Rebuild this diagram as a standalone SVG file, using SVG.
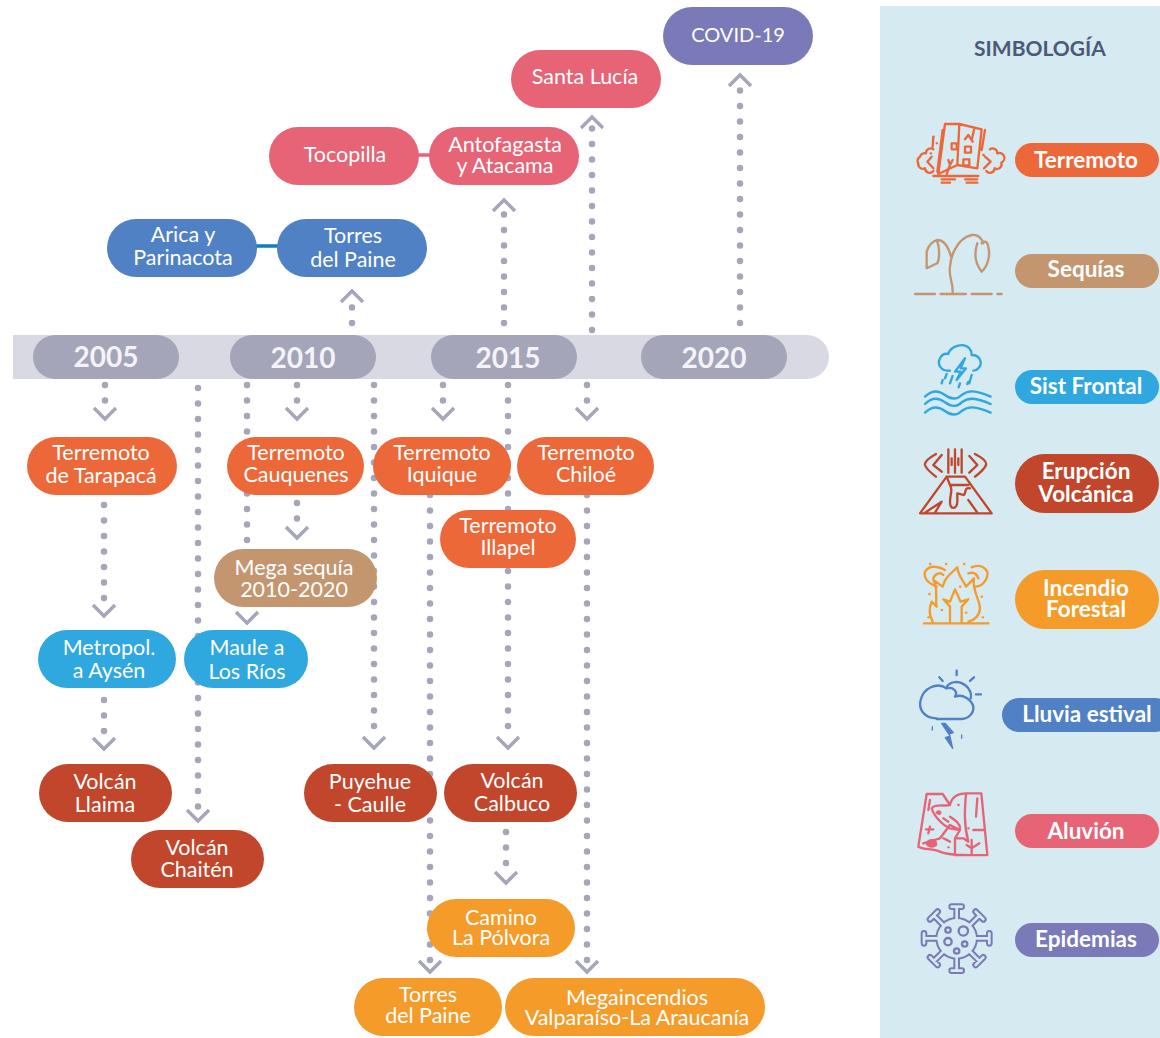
<svg xmlns="http://www.w3.org/2000/svg" width="1160" height="1038" viewBox="0 0 1160 1038">
<defs><style>
text{font-family:"Lato","Noto Sans",sans-serif;font-size:21.5px;fill:#fff;text-anchor:middle}
.y{font-size:28px;font-weight:700;fill:#f4f4f8}
.l{font-size:22.5px;font-weight:700}
.t{font-size:21px;font-weight:700;fill:#4c5a78}
.dot{fill:none;stroke:#a5a6ba;stroke-width:6.500;stroke-linecap:round;stroke-dasharray:0 15.500}
.ch{fill:none;stroke:#a5a6ba;stroke-width:3.500}
.ic{fill:none;stroke-width:7;stroke-linecap:round;stroke-linejoin:round}
.eq{fill:#ec6839}.vo{fill:#c1462b}.fi{fill:#f59b2a}.dr{fill:#c39670}.fr{fill:#2fa7df}.ra{fill:#4f81c4}.al{fill:#e66475}.ep{fill:#7a7ab8}.yr{fill:#a4a5b9}
</style></defs>
<rect x="880" y="6" width="280" height="1032" fill="#d6eaf2"/>
<path d="M13 335H807a22 22 0 0 1 0 44H13Z" fill="#d9d9e3"/>
<g id="connectors">
<path class="dot" d="M352 323V298M504 323V208M592 330V126M740 323V84"/>
<path class="dot" d="M105 385V412M198 388V812M247 385V615M297 385V412M374 385V740M443 385V412M508 385V738M587 385V412M104 505V606M104 700V736M297 503V530M430 495V962M506 832V876M587 495V962"/>
<path class="ch" d="M341 302L352 291L363 302M493 211L504 200L515 211M581 128L592 117L603 128M729 86L740 75L751 86"/>
<path class="ch" d="M94 408L105 419L116 408M187 810L198 821L209 810M236 612L247 623L258 612M286 408L297 419L308 408M363 737L374 748L385 737M432 408L443 419L454 408M497 737L508 748L519 737M576 408L587 419L598 408M93 605L104 616L115 605M93 738L104 749L115 738M286 527L297 538L308 527M419 961L430 972L441 961M495 872L506 883L517 872M576 961L587 972L598 961"/>
<path d="M415 155H433" stroke="#e66475" stroke-width="3.500"/>
<path d="M253 246H281" stroke="#0f7cc4" stroke-width="3.500"/>
</g>
<g id="y2005"><rect class="yr" x="33" y="335" width="146" height="44" rx="22"/><text class="y" x="106" y="367">2005</text></g>
<g id="y2010"><rect class="yr" x="230" y="335" width="146" height="44" rx="22"/><text class="y" x="303" y="368">2010</text></g>
<g id="y2015"><rect class="yr" x="431" y="335" width="146" height="44" rx="22"/><text class="y" x="508" y="368">2015</text></g>
<g id="y2020"><rect class="yr" x="641" y="335" width="146" height="44" rx="22"/><text class="y" x="714" y="368">2020</text></g>
<g id="covid"><rect class="ep" x="663" y="7" width="150" height="58" rx="29"/><text x="738" y="42" style="font-size:20px">COVID-19</text></g>
<g id="santalucia"><rect class="al" x="511" y="50" width="150" height="58" rx="29"/><text x="585" y="84">Santa Lucía</text></g>
<g id="tocopilla"><rect class="al" x="269" y="127" width="150" height="58" rx="29"/><text x="345" y="162">Tocopilla</text></g>
<g id="antofagasta"><rect class="al" x="429" y="127" width="150" height="58" rx="29"/><text x="505" y="152">Antofagasta</text><text x="505" y="173">y Atacama</text></g>
<g id="arica"><rect class="ra" x="107" y="219" width="150" height="58" rx="29"/><text x="183" y="242">Arica y</text><text x="183" y="265">Parinacota</text></g>
<g id="torres1"><rect class="ra" x="277" y="219" width="150" height="58" rx="29"/><text x="353" y="243">Torres</text><text x="353" y="267">del Paine</text></g>
<g id="tarapaca"><rect class="eq" x="27" y="437" width="150" height="58" rx="29"/><text x="101" y="460">Terremoto</text><text x="101" y="483">de Tarapacá</text></g>
<g id="cauquenes"><rect class="eq" x="227" y="437" width="137" height="58" rx="29"/><text x="296" y="460">Terremoto</text><text x="296" y="482">Cauquenes</text></g>
<g id="iquique"><rect class="eq" x="373" y="437" width="138" height="58" rx="29"/><text x="442" y="460">Terremoto</text><text x="442" y="482">Iquique</text></g>
<g id="chiloe"><rect class="eq" x="517" y="437" width="137" height="58" rx="29"/><text x="586" y="460">Terremoto</text><text x="586" y="482">Chiloé</text></g>
<g id="illapel"><rect class="eq" x="440" y="510" width="136" height="58" rx="29"/><text x="508" y="533">Terremoto</text><text x="508" y="555">Illapel</text></g>
<g id="megasequia"><rect class="dr" x="214" y="549" width="163" height="58" rx="29"/><text x="294" y="575">Mega sequía</text><text x="294" y="597">2010-2020</text></g>
<g id="metropol"><rect class="fr" x="38" y="630" width="138" height="58" rx="29"/><text x="109" y="655">Metropol.</text><text x="109" y="678">a Aysén</text></g>
<g id="maule"><rect class="fr" x="184" y="630" width="124" height="58" rx="29"/><text x="247" y="655">Maule a</text><text x="247" y="679">Los Ríos</text></g>
<g id="llaima"><rect class="vo" x="39" y="764" width="133" height="58" rx="29"/><text x="105" y="789">Volcán</text><text x="105" y="812">Llaima</text></g>
<g id="chaiten"><rect class="vo" x="131" y="830" width="133" height="58" rx="29"/><text x="197" y="855">Volcán</text><text x="197" y="877">Chaitén</text></g>
<g id="puyehue"><rect class="vo" x="304" y="764" width="133" height="58" rx="29"/><text x="370" y="789">Puyehue</text><text x="370" y="812">- Caulle</text></g>
<g id="calbuco"><rect class="vo" x="444" y="764" width="133" height="58" rx="29"/><text x="512" y="788">Volcán</text><text x="512" y="811">Calbuco</text></g>
<g id="camino"><rect class="fi" x="427" y="899" width="148" height="58" rx="29"/><text x="501" y="925">Camino</text><text x="501" y="945">La Pólvora</text></g>
<g id="torres2"><rect class="fi" x="354" y="978" width="148" height="58" rx="29"/><text x="428" y="1002">Torres</text><text x="428" y="1023">del Paine</text></g>
<g id="megaincendios"><rect class="fi" x="505" y="978" width="260" height="58" rx="29"/><text x="637" y="1005">Megaincendios</text><text x="637" y="1025">Valparaíso-La Araucanía</text></g>
<g id="legend">
<text class="t" x="1040" y="56">SIMBOLOGÍA</text>
<g id="lg-terremoto"><rect class="eq" x="1015" y="143" width="144" height="34" rx="17"/><text class="l" x="1086" y="168">Terremoto</text>
<g class="ic" stroke="#ec6839" transform="translate(900 100) scale(.3333)"><path d="M135 72L178 72L172 195L115 222ZM178 72L245 88L232 205L172 195M128 90L112 215M100 110L98 140M255 90L245 150M155 130h15v18h-15ZM195 140h18v18h-18ZM190 178h18v18h-18ZM145 180L150 195L140 222M158 180L150 195M195 118L205 105L218 125M222 90L215 120M100 148a14 14 0 0 0-22 12a14 14 0 0 0-18 10a14 14 0 0 0-5 20a14 14 0 0 0 20 15a14 14 0 0 0 25 8M95 170L82 185L100 205M270 148a14 14 0 0 1 22 12a14 14 0 0 1 12 28a14 14 0 0 1-20 17a14 14 0 0 1-25 8M255 170L272 185L252 205M100 228H235M125 238H165M195 238H232M125 248H150M200 248H232M100 110h1M92 160h1M110 130h1M250 165h1"/></g></g>
<g id="lg-sequias"><rect class="dr" x="1015" y="254" width="144" height="34" rx="17"/><text class="l" x="1086" y="277">Sequías</text>
<g class="ic" stroke="#c39670" transform="translate(900 100) scale(.3333)"><path d="M158 580C160 545 145 530 150 500C152 470 170 415 215 405C235 403 245 415 250 430M153 470C145 440 130 420 112 420C95 425 85 440 80 455V505L112 490C120 475 118 440 112 425M232 430C222 460 225 490 245 515C262 500 275 465 262 430C258 422 250 425 245 430M45 582H105M122 582H198M215 582H275M292 582H305"/></g></g>
<g id="lg-frontal"><rect class="fr" x="1015" y="370" width="144" height="34" rx="17"/><text class="l" x="1086" y="394">Sist Frontal</text>
<g class="ic" stroke="#2fa7df" transform="translate(900 100) scale(.3333)"><path d="M150 812C125 815 110 795 120 775C125 765 135 760 145 762C150 740 190 725 208 745C215 752 215 760 215 765C240 765 250 790 235 805C230 810 225 812 220 812M195 775L165 815H182L170 840L198 805H182ZM140 822L135 835M158 828L150 850M128 840L125 850M215 825L208 850M205 845L202 852M180 850L176 862M75 890C95 870 115 870 135 885C155 900 170 900 185 885C205 870 225 870 272 890M75 912C95 892 115 892 135 907C155 922 170 922 185 907C205 892 225 892 272 912M75 938C95 918 115 918 135 933C155 948 170 948 185 933C205 918 225 918 272 938"/></g></g>
<g id="lg-erupcion"><rect class="vo" x="1015" y="454" width="144" height="59" rx="29.500"/><text class="l" x="1086" y="479">Erupción</text><text class="l" x="1086" y="502">Volcánica</text>
<g class="ic" stroke="#c1462b" transform="translate(900 430) scale(.3333)"><path d="M108 72C85 85 72 95 75 105C80 120 95 130 108 140M125 75L100 105L125 125M225 72C250 85 262 95 258 105C252 120 238 130 225 140M208 78L232 105L208 128M145 58V128M165 58V128M185 58V128M155 85V105M175 85V105M60 250L140 140H195L275 250ZM140 140L150 165H205M150 165C160 180 150 190 150 215C150 240 170 240 172 215V190L190 195C200 195 190 170 210 175M75 248L125 215L105 248M205 210L232 248"/></g></g>
<g id="lg-incendio"><rect class="fi" x="1015" y="570" width="144" height="59" rx="29.500"/><text class="l" x="1086" y="596">Incendio</text><text class="l" x="1086" y="617">Forestal</text>
<g class="ic" stroke="#f59b2a" transform="translate(900 430) scale(.3333)"><path d="M72 580H265M98 575C85 550 88 530 95 515L110 530C105 500 115 470 100 450L128 470C135 440 155 430 172 412C175 440 190 450 198 470L222 445C215 480 240 510 240 535C240 555 225 570 205 575M150 575V530L130 508L150 515L165 478L182 515L205 508L185 530V575M110 470C85 460 70 445 75 425C85 410 105 405 135 420M100 445C105 430 120 425 130 435M225 470C250 470 265 445 262 425C250 405 230 405 215 412M235 445C230 430 220 425 205 430M90 402h1M138 402h1M192 402h1M88 492h1M245 500h1M125 540h1M198 548h1M248 562h1M85 562h1M180 470h1"/></g></g>
<g id="lg-lluvia"><rect class="ra" x="1002" y="698" width="170" height="34" rx="17"/><text class="l" x="1087" y="722">Lluvia estival</text>
<g class="ic" stroke="#4f81c4" transform="translate(900 430) scale(.3333)"><path d="M110 865C70 865 55 835 62 810C70 775 110 755 140 775C160 770 175 785 165 800C190 790 215 810 220 830C222 850 205 867 185 867H110ZM138 775C145 755 180 745 205 775C212 785 215 795 212 805M170 722V735M118 742L128 753M222 742L210 753M228 793H243"/><path d="M125 880L150 918L136 923L158 955L148 912L160 908L135 880ZM97 890V900M185 915V925" style="fill:#4f81c4;stroke-width:4"/></g></g>
<g id="lg-aluvion"><rect class="al" x="1015" y="814" width="144" height="34" rx="17"/><text class="l" x="1086" y="839">Aluvión</text>
<g class="ic" stroke="#e66475" transform="translate(900 730) scale(.3333)"><path d="M80 192H128L150 225C155 200 175 190 200 190H244L262 375C220 375 150 380 120 365C100 355 70 360 55 350ZM198 192C195 230 190 280 205 335L190 325L165 325L180 300L150 285L120 325L70 340M150 225C135 230 105 220 95 235C100 255 125 285 150 295L180 300M150 260C165 270 180 280 180 295M165 325V375M90 290L85 310M78 298H100M90 210L85 240M232 205L228 260M220 300H250M205 295h1M175 225h1M130 325L150 335M215 370V330M200 345L215 355L238 340M145 352h1M130 265L145 275"/><path d="M80 340C90 325 110 330 108 345C100 352 85 352 80 340ZM110 248C118 238 125 250 118 252Z" fill="#e66475"/></g></g>
<g id="lg-epidemias"><rect class="ep" x="1015" y="923" width="144" height="34" rx="17"/><text class="l" x="1086" y="947">Epidemias</text>
<g transform="translate(900 730) scale(.3333)" fill="none" stroke-linecap="round"><path stroke="#7a7ab8" stroke-width="20" d="M170 625V532M155 530H185M170 625V718M155 722H185M170 625H76M72 610V640M170 625H264M268 610V640M170 625L102 557M90 568L113 545M170 625L238 557M227 545L250 568M170 625L102 693M90 682L113 705M170 625L238 693M227 705L250 682"/><circle cx="170" cy="625" r="64" fill="#7a7ab8"/><path stroke="#d6eaf2" stroke-width="8" d="M170 625V532M155 530H185M170 625V718M155 722H185M170 625H76M72 610V640M170 625H264M268 610V640M170 625L102 557M90 568L113 545M170 625L238 557M227 545L250 568M170 625L102 693M90 682L113 705M170 625L238 693M227 705L250 682"/><circle cx="170" cy="625" r="58" fill="#d6eaf2"/><g stroke="#7a7ab8" stroke-width="7"><circle cx="190" cy="603" r="14"/><circle cx="144" cy="600" r="8"/><circle cx="144" cy="635" r="11"/><circle cx="194" cy="642" r="8"/><circle cx="170" cy="663" r="8"/></g></g></g>
</g>
</svg>
